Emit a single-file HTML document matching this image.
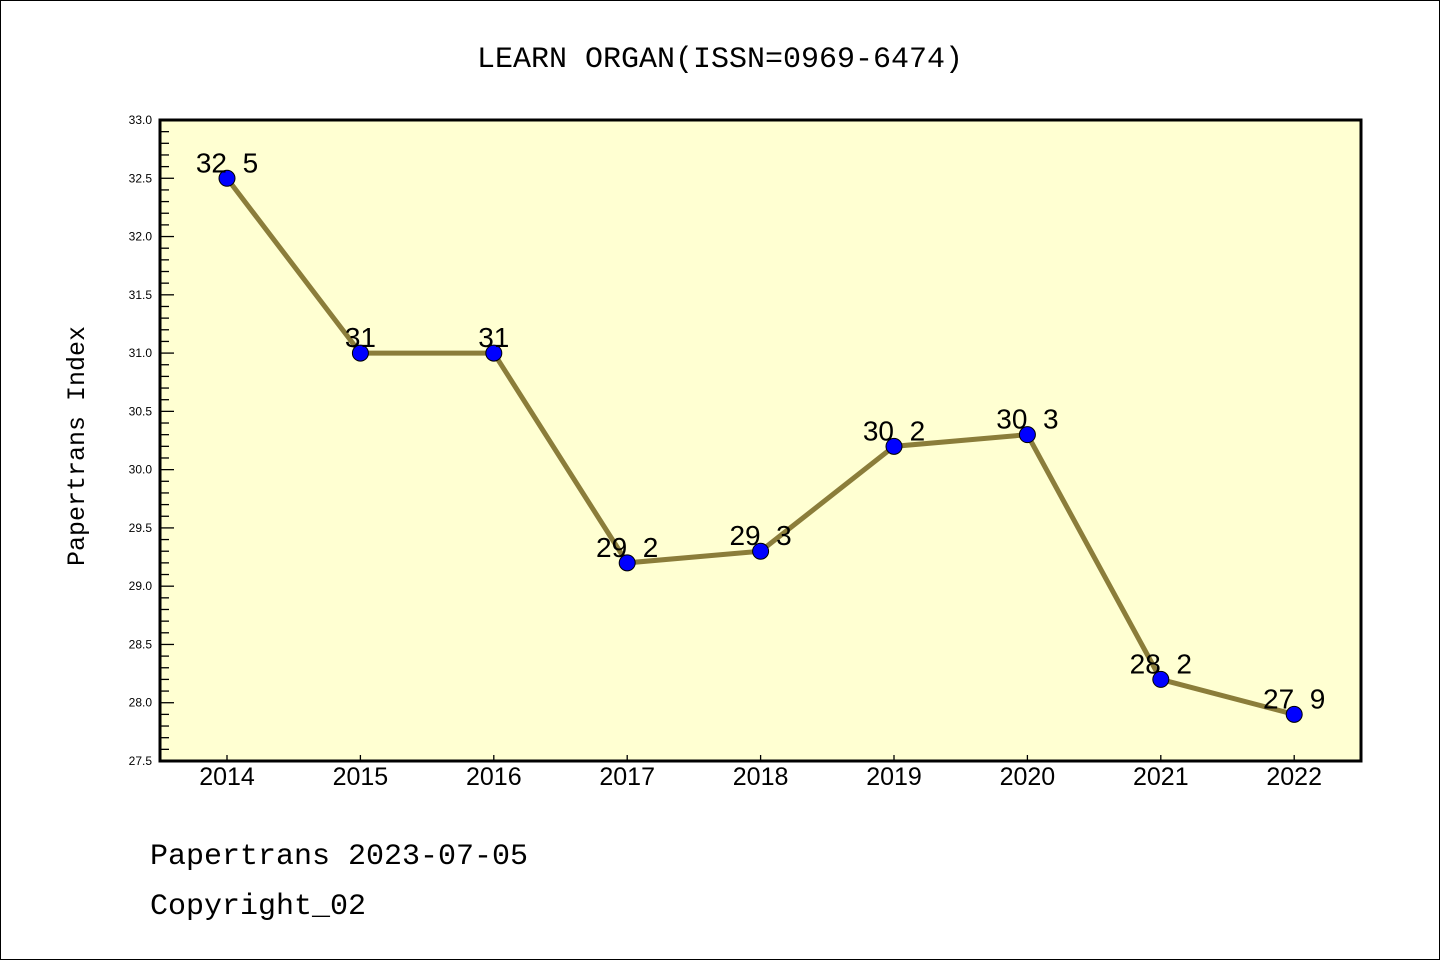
<!DOCTYPE html>
<html><head><meta charset="utf-8"><style>
html,body{margin:0;padding:0;background:#fff}
svg{display:block;font-family:"Liberation Mono","DejaVu Sans Mono",monospace}
</style></head><body>
<svg id="chart" width="1440" height="960" viewBox="0 0 1440 960">
<rect x="0.5" y="0.5" width="1439" height="959" fill="#fff" stroke="#000"/>
<text x="720" y="67" text-anchor="middle" font-size="30">LEARN ORGAN(ISSN=0969-6474)</text>
<rect x="160" y="120" width="1201" height="641" fill="#ffffd2"/>
<g id="yaxis"></g>
<g id="xaxis"></g>
<g id="series"></g>
<rect x="160" y="120" width="1201" height="641" fill="none" stroke="#000" stroke-width="3"/>
<text transform="translate(84,446) rotate(-90)" text-anchor="middle" font-size="25">Papertrans Index</text>
<text x="150" y="864" font-size="30">Papertrans 2023-07-05</text>
<text x="150" y="914" font-size="30">Copyright_02</text>
</svg>
<script>
const years=["2014","2015","2016","2017","2018","2019","2020","2021","2022"];
const values=[32.5,31,31,29.2,29.3,30.2,30.3,28.2,27.9];
const valueLabels=["32.5","31","31","29.2","29.3","30.2","30.3","28.2","27.9"];
const yTicks=[27.5,28.0,28.5,29.0,29.5,30.0,30.5,31.0,31.5,32.0,32.5,33.0];
const NS="http://www.w3.org/2000/svg";
const yMin=27.5,yMax=33.0,plotTop=120,plotBot=761;
function ys(v){return plotBot-(v-yMin)/(yMax-yMin)*(plotBot-plotTop);}
function xs(i){return 227+i*133.4;}
function mk(t,a,p){const e=document.createElementNS(NS,t);for(const k in a)e.setAttribute(k,a[k]);p.appendChild(e);return e;}
const ya=document.getElementById('yaxis');
for(let k=0;k<=55;k++){
  const v=yMin+k*0.1;
  const major=k%5===0;
  const l=mk('line',{x1:160,x2:160+(major?14:9),y1:ys(v),y2:ys(v),stroke:'#000','stroke-width':1.3},ya);
  
  
}
yTicks.forEach(v=>{
  const t=mk('text',{x:152,y:ys(v)+4,'text-anchor':'end','font-size':12,'font-family':'Liberation Sans, sans-serif'},ya);
  t.textContent=v.toFixed(1);
  
  
});
const xa=document.getElementById('xaxis');
years.forEach((yr,i)=>{
  const l=mk('line',{x1:xs(i),x2:xs(i),y1:plotBot,y2:plotBot-6,stroke:'#000','stroke-width':1.3},xa);
  
  
  const t=mk('text',{x:xs(i),y:785,'text-anchor':'middle','font-size':25,'font-family':'Liberation Sans, sans-serif'},xa);
  t.textContent=yr;
  
  
});
const s=document.getElementById('series');
const pl=mk('polyline',{points:values.map((v,i)=>xs(i)+','+ys(v)).join(' '),fill:'none',stroke:'#8b7d3a','stroke-width':5},s);


values.forEach((v,i)=>{
  const c=mk('circle',{cx:xs(i),cy:ys(v),r:8,fill:'#0000ff',stroke:'#000','stroke-width':1},s);
  
  
  const t=mk('text',{x:xs(i),y:ys(v)-6,'text-anchor':'middle','font-size':28,'font-family':'Liberation Sans, sans-serif','xml:space':'preserve'},s);
  t.textContent=valueLabels[i].replace('.','  ');
  t.setAttribute('xml:space','preserve');
  t.style.whiteSpace='pre';
  
  
});
</script>
</body></html>
